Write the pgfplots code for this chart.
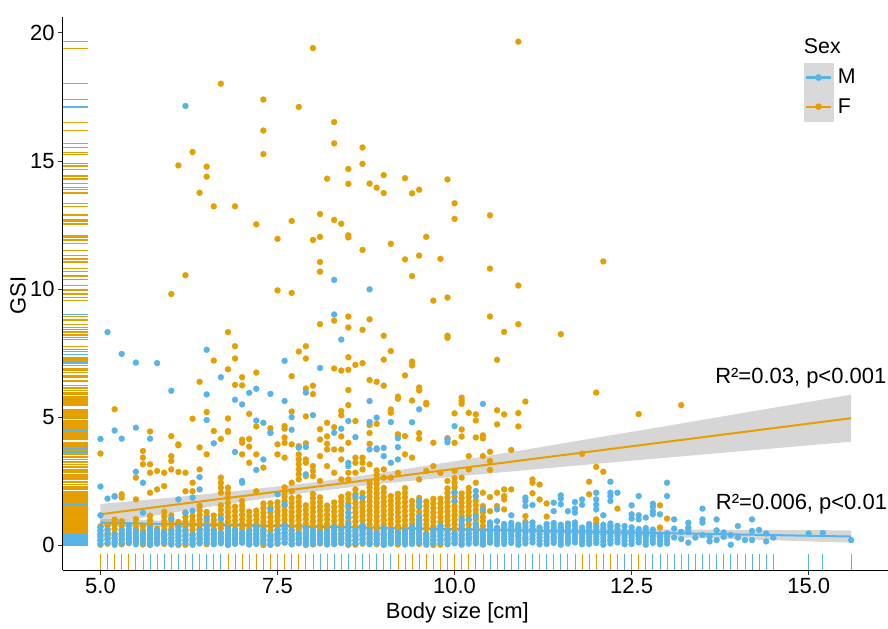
\documentclass[border=0pt]{standalone}
\usepackage{fontspec}
\setmainfont{Liberation Sans}
\usepackage{pgfplots}
\usepackage{pgfplotstable}
\pgfplotsset{compat=1.18}
\definecolor{Fc}{HTML}{E69F00}
\definecolor{Mc}{HTML}{56B4E9}
\definecolor{bandc}{RGB}{153,153,153}
\definecolor{keyc}{RGB}{217,217,217}

% Females
\pgfplotstableread[row sep=\\]{
x y\\
8.0 19.41\\ 6.7 18.02\\ 7.3 17.40\\ 7.8 17.11\\ 8.3 16.52\\ 7.3 16.19\\ 8.3 15.69\\ 8.7 15.53\\ 7.3 15.27\\ 6.3 15.35\\
6.1 14.83\\ 6.5 14.78\\ 6.5 14.39\\ 6.4 13.76\\ 6.6 13.23\\ 6.9 13.23\\ 8.5 14.69\\ 8.7 14.89\\ 8.2 14.31\\ 8.5 14.11\\
8.8 14.12\\ 8.9 13.96\\ 9.0 14.45\\ 9.0 13.75\\ 9.3 14.33\\ 9.4 13.74\\ 9.5 13.88\\ 9.9 14.28\\ 10.0 13.35\\ 10.0 12.74\\
7.2 12.53\\ 7.7 12.66\\ 8.1 12.93\\ 8.3 12.70\\ 8.4 12.55\\ 7.5 11.96\\ 8.0 11.92\\ 8.1 12.04\\ 8.5 12.10\\ 8.5 12.02\\
8.7 11.53\\ 9.1 11.77\\ 9.6 12.04\\ 9.3 11.16\\ 9.5 11.31\\ 9.8 11.18\\ 9.4 10.51\\ 8.1 11.06\\ 8.1 10.68\\ 6.2 10.54\\
6.0 9.81\\ 7.5 9.95\\ 7.7 9.85\\ 9.7 9.55\\ 9.9 9.67\\
10.9 19.66\\ 10.5 12.88\\ 10.5 10.80\\ 10.9 10.14\\ 12.1 11.08\\
10.5 8.93\\ 10.9 8.63\\ 10.7 8.33\\ 11.5 8.24\\ 10.6 7.24\\ 12.0 5.96\\ 13.2 5.47\\ 12.6 5.12\\ 11.0 5.61\\ 10.6 5.27\\
10.7 5.11\\ 10.9 5.16\\ 10.3 5.11\\ 10.3 4.87\\ 10.6 4.72\\ 10.9 4.64\\ 10.3 4.21\\ 10.4 4.29\\ 10.4 4.17\\
6.8 8.32\\ 6.9 7.77\\ 6.9 7.29\\ 6.6 7.21\\ 6.8 6.87\\ 6.4 6.38\\ 7.0 6.56\\ 6.9 6.26\\ 7.0 6.24\\ 7.2 6.74\\
5.2 5.31\\ 6.5 5.20\\ 6.3 4.94\\ 6.8 4.95\\ 6.8 4.43\\ 7.1 5.13\\ 7.2 4.64\\ 5.7 4.44\\ 6.1 3.90\\ 6.4 3.82\\
6.7 4.15\\ 7.0 4.12\\ 7.1 4.15\\ 7.1 3.85\\ 7.5 3.94\\ 7.6 4.65\\ 7.6 4.55\\ 7.6 4.21\\ 7.6 4.00\\ 7.4 4.57\\
7.7 5.22\\ 7.7 6.60\\ 7.8 3.87\\ 7.9 3.98\\ 7.9 6.12\\ 7.9 5.03\\ 8.0 6.23\\ 8.0 5.90\\ 7.8 7.56\\ 7.9 7.77\\
7.9 7.29\\ 8.1 8.63\\ 8.3 8.77\\ 8.5 8.93\\ 8.5 8.50\\ 8.7 8.41\\ 8.8 8.82\\ 9.0 8.18\\ 9.1 7.58\\ 9.0 7.25\\
8.5 7.34\\ 8.3 6.90\\ 8.4 6.82\\ 8.5 6.85\\ 8.6 7.04\\ 8.7 7.11\\ 8.8 6.45\\ 8.9 6.38\\ 9.0 6.23\\ 8.5 6.06\\
8.5 5.47\\ 8.4 5.24\\ 8.4 5.07\\ 8.1 4.53\\ 8.2 4.78\\ 8.2 4.25\\ 8.2 3.96\\ 8.3 4.61\\ 8.6 4.85\\ 8.8 4.69\\
8.8 4.38\\ 8.9 4.74\\ 8.4 4.25\\ 9.4 7.17\\ 9.4 7.02\\ 9.3 6.63\\ 9.5 6.16\\ 9.5 6.04\\ 9.2 5.80\\ 9.2 5.72\\
9.4 5.65\\ 9.6 5.56\\ 9.6 5.50\\ 9.1 5.30\\ 9.1 5.17\\ 10.1 5.76\\ 10.1 5.64\\ 10.1 5.52\\ 10.0 5.15\\ 10.2 5.17\\
9.9 8.18\\ 9.9 8.10\\ 9.2 4.31\\ 9.3 4.26\\ 9.5 4.38\\ 9.5 4.16\\ 9.9 4.18\\ 10.1 4.24\\ 8.8 3.96\\
5.0 3.58\\ 5.2 1.92\\ 5.3 1.99\\ 5.3 1.86\\ 5.5 1.79\\ 5.5 2.64\\ 5.6 3.68\\ 5.6 3.42\\ 5.6 3.16\\ 5.7 3.16\\
5.7 2.83\\ 5.7 2.05\\ 5.8 2.90\\ 5.8 2.18\\ 5.9 2.83\\ 5.9 2.31\\ 6.0 4.26\\ 6.0 3.48\\ 6.0 3.29\\ 6.0 2.96\\
6.1 3.94\\ 6.1 2.86\\ 6.2 2.83\\ 6.2 2.11\\ 6.3 2.44\\ 6.3 2.11\\ 6.4 2.96\\ 6.5 3.55\\ 6.6 4.46\\ 6.7 2.64\\
6.7 2.44\\ 6.7 2.25\\ 6.7 2.05\\ 6.8 4.46\\ 6.8 2.25\\ 6.8 2.05\\ 6.8 1.86\\ 7.0 4.00\\ 7.0 3.55\\ 7.1 3.22\\
7.2 3.55\\ 7.2 2.11\\ 7.3 3.03\\ 7.4 4.39\\ 7.5 3.55\\ 7.6 3.42\\ 7.7 2.44\\ 7.7 2.11\\
7.7 3.94\\ 7.8 3.55\\ 7.8 3.35\\ 7.8 3.16\\ 7.8 2.96\\ 7.8 2.77\\ 7.8 2.57\\ 7.9 3.35\\ 7.9 3.22\\ 7.9 2.70\\
8.0 3.09\\ 8.0 2.90\\ 8.0 2.70\\ 8.1 4.13\\ 8.1 3.48\\ 8.1 2.51\\ 8.2 3.74\\ 8.2 3.09\\ 8.3 3.74\\ 8.3 2.83\\
8.4 3.74\\ 8.4 3.35\\ 8.4 2.57\\ 8.5 4.00\\ 8.5 2.83\\ 8.5 2.57\\ 8.6 3.42\\ 8.6 3.22\\ 8.6 2.83\\ 8.7 3.42\\
8.7 3.22\\ 8.7 2.96\\ 8.8 3.16\\ 8.9 3.74\\ 9.0 2.96\\ 9.0 2.64\\ 9.1 2.64\\ 9.2 4.33\\ 9.2 2.83\\ 9.3 3.55\\
9.4 3.42\\ 9.5 2.57\\ 9.6 2.90\\ 9.7 4.00\\ 9.7 3.09\\ 9.8 2.83\\ 9.9 2.51\\ 10.0 4.00\\ 10.0 2.90\\ 10.1 4.52\\
10.1 2.64\\ 10.2 3.48\\ 10.2 2.96\\ 10.3 2.44\\ 10.4 3.48\\
10.5 3.65\\ 10.5 3.29\\ 10.5 2.94\\ 10.8 3.72\\ 10.4 2.05\\ 10.4 1.53\\ 10.4 0.94\\ 10.5 1.88\\ 10.5 1.33\\ 10.5 0.82\\
10.6 2.05\\ 10.6 1.53\\ 10.7 2.18\\ 10.7 1.92\\ 10.7 1.79\\ 10.7 1.40\\ 10.8 2.18\\ 10.9 0.69\\ 10.9 0.39\\ 11.0 1.14\\
11.0 0.91\\ 11.1 2.57\\ 11.1 2.44\\ 11.1 2.03\\ 11.1 0.62\\ 11.2 2.37\\ 11.2 1.79\\ 11.2 0.60\\ 11.3 1.63\\ 11.3 1.12\\
11.5 0.67\\ 11.6 0.83\\ 11.8 3.57\\ 11.9 2.48\\ 11.9 1.99\\ 12.0 3.06\\ 12.0 1.01\\ 12.0 0.85\\ 12.1 2.87\\ 12.3 1.43\\
12.2 0.75\\ 12.9 1.56\\ 13.0 1.04\\ 12.9 0.69\\ 12.6 0.36\\ 13.3 0.67\\
10.5 0.10\\ 10.6 0.45\\ 10.7 0.30\\ 10.8 0.50\\ 11.0 0.25\\ 11.4 0.30\\ 12.2 0.20\\
5.0 0.02\\ 5.0 0.20\\ 5.0 0.38\\ 5.0 0.56\\ 5.0 0.74\\
5.1 0.06\\ 5.1 0.24\\ 5.1 0.42\\ 5.1 0.60\\ 5.1 0.78\\
5.2 0.10\\ 5.2 0.28\\ 5.2 0.46\\ 5.2 0.64\\ 5.2 0.82\\ 5.2 1.00\\
5.3 0.04\\ 5.3 0.22\\ 5.3 0.40\\ 5.3 0.58\\ 5.3 0.76\\ 5.3 0.94\\
5.4 0.08\\ 5.4 0.26\\ 5.4 0.44\\
5.5 0.12\\ 5.5 0.30\\ 5.5 0.48\\ 5.5 0.66\\ 5.5 0.84\\ 5.5 1.02\\
5.6 0.03\\ 5.6 0.21\\ 5.6 0.39\\ 5.6 0.57\\ 5.6 0.75\\
5.7 0.07\\ 5.7 0.25\\ 5.7 0.43\\ 5.7 0.61\\ 5.7 0.79\\ 5.7 0.97\\ 5.7 1.15\\
5.8 0.11\\ 5.8 0.29\\ 5.8 0.47\\ 5.8 0.65\\
5.9 0.05\\ 5.9 0.23\\ 5.9 0.41\\ 5.9 0.59\\ 5.9 0.77\\ 5.9 0.95\\ 5.9 1.13\\ 5.9 1.31\\
6.0 0.09\\ 6.0 0.27\\ 6.0 0.45\\ 6.0 0.63\\ 6.0 0.81\\ 6.0 0.99\\ 6.0 1.17\\
6.1 0.01\\ 6.1 0.19\\ 6.1 0.37\\ 6.1 0.55\\ 6.1 0.73\\ 6.1 0.91\\
6.2 0.02\\ 6.2 0.20\\ 6.2 0.38\\ 6.2 0.56\\ 6.2 0.74\\ 6.2 0.92\\ 6.2 1.10\\ 6.2 1.28\\
6.3 0.06\\ 6.3 0.24\\ 6.3 0.42\\ 6.3 0.60\\ 6.3 0.78\\ 6.3 0.96\\ 6.3 1.14\\
6.4 0.10\\ 6.4 0.28\\ 6.4 0.46\\ 6.4 0.64\\ 6.4 0.82\\ 6.4 1.00\\ 6.4 1.18\\ 6.4 1.36\\ 6.4 1.54\\
6.5 0.04\\ 6.5 0.22\\ 6.5 0.40\\ 6.5 0.58\\ 6.5 0.76\\ 6.5 0.94\\ 6.5 1.12\\ 6.5 1.30\\
6.6 0.08\\ 6.6 0.26\\ 6.6 0.44\\ 6.6 0.62\\ 6.6 0.80\\ 6.6 0.98\\ 6.6 1.16\\
6.7 0.12\\ 6.7 0.30\\ 6.7 0.48\\ 6.7 0.66\\ 6.7 0.84\\ 6.7 1.02\\ 6.7 1.20\\ 6.7 1.38\\ 6.7 1.56\\
6.8 0.03\\ 6.8 0.21\\ 6.8 0.39\\ 6.8 0.57\\ 6.8 0.75\\ 6.8 0.93\\ 6.8 1.11\\ 6.8 1.29\\ 6.8 1.47\\ 6.8 1.65\\
6.9 0.07\\ 6.9 0.25\\ 6.9 0.43\\ 6.9 0.61\\ 6.9 0.79\\ 6.9 0.97\\ 6.9 1.15\\ 6.9 1.33\\ 6.9 1.51\\
7.0 0.11\\ 7.0 0.29\\ 7.0 0.47\\ 7.0 0.65\\ 7.0 0.83\\ 7.0 1.01\\ 7.0 1.19\\ 7.0 1.37\\ 7.0 1.55\\ 7.0 1.73\\
7.1 0.05\\ 7.1 0.23\\ 7.1 0.41\\ 7.1 0.59\\ 7.1 0.77\\ 7.1 0.95\\ 7.1 1.13\\ 7.1 1.31\\
7.2 0.09\\ 7.2 0.27\\ 7.2 0.45\\ 7.2 0.63\\ 7.2 0.81\\ 7.2 0.99\\ 7.2 1.17\\ 7.2 1.35\\
7.3 0.01\\ 7.3 0.19\\ 7.3 0.37\\ 7.3 0.55\\ 7.3 0.73\\ 7.3 0.91\\ 7.3 1.09\\ 7.3 1.27\\ 7.3 1.45\\ 7.3 1.63\\
7.4 0.02\\ 7.4 0.20\\ 7.4 0.38\\ 7.4 0.56\\ 7.4 0.74\\ 7.4 0.92\\ 7.4 1.10\\ 7.4 1.28\\ 7.4 1.46\\ 7.4 1.64\\
7.5 0.06\\ 7.5 0.24\\ 7.5 0.42\\ 7.5 0.60\\ 7.5 0.78\\ 7.5 0.96\\ 7.5 1.14\\ 7.5 1.32\\ 7.5 1.50\\ 7.5 1.68\\
7.6 0.10\\ 7.6 0.28\\ 7.6 0.46\\ 7.6 0.64\\ 7.6 0.82\\ 7.6 1.00\\ 7.6 1.18\\ 7.6 1.36\\ 7.6 1.54\\ 7.6 1.72\\ 7.6 1.90\\ 7.6 2.08\\ 7.6 2.26\\
7.7 0.04\\ 7.7 0.22\\ 7.7 0.40\\ 7.7 0.58\\ 7.7 0.76\\ 7.7 0.94\\ 7.7 1.12\\ 7.7 1.30\\ 7.7 1.48\\ 7.7 1.66\\ 7.7 1.84\\
7.8 0.08\\ 7.8 0.26\\ 7.8 0.44\\ 7.8 0.62\\ 7.8 0.80\\ 7.8 0.98\\ 7.8 1.16\\ 7.8 1.34\\ 7.8 1.52\\ 7.8 1.70\\ 7.8 1.88\\
7.9 0.12\\ 7.9 0.30\\ 7.9 0.48\\ 7.9 0.66\\ 7.9 0.84\\ 7.9 1.02\\ 7.9 1.20\\ 7.9 1.38\\ 7.9 1.56\\
8.0 0.03\\ 8.0 0.21\\ 8.0 0.39\\ 8.0 0.57\\ 8.0 0.75\\ 8.0 0.93\\ 8.0 1.11\\ 8.0 1.29\\ 8.0 1.47\\ 8.0 1.65\\ 8.0 1.83\\ 8.0 2.01\\
8.1 0.07\\ 8.1 0.25\\ 8.1 0.43\\ 8.1 0.61\\ 8.1 0.79\\ 8.1 0.97\\ 8.1 1.15\\ 8.1 1.33\\ 8.1 1.51\\ 8.1 1.69\\ 8.1 1.87\\
8.2 0.11\\ 8.2 0.29\\ 8.2 0.47\\ 8.2 0.65\\ 8.2 0.83\\ 8.2 1.01\\ 8.2 1.19\\ 8.2 1.37\\ 8.2 1.55\\
8.3 0.05\\ 8.3 0.23\\ 8.3 0.41\\ 8.3 0.59\\ 8.3 0.77\\ 8.3 0.95\\ 8.3 1.13\\ 8.3 1.31\\ 8.3 1.49\\ 8.3 1.67\\
8.4 0.09\\ 8.4 0.27\\ 8.4 0.45\\ 8.4 0.63\\ 8.4 0.81\\ 8.4 0.99\\ 8.4 1.17\\ 8.4 1.35\\ 8.4 1.53\\ 8.4 1.71\\ 8.4 1.89\\
8.5 0.01\\ 8.5 0.19\\ 8.5 0.37\\ 8.5 0.55\\ 8.5 0.73\\ 8.5 0.91\\ 8.5 1.09\\ 8.5 1.27\\ 8.5 1.45\\ 8.5 1.63\\ 8.5 1.81\\ 8.5 1.99\\
8.6 0.02\\ 8.6 0.20\\ 8.6 0.38\\ 8.6 0.56\\ 8.6 0.74\\ 8.6 0.92\\ 8.6 1.10\\ 8.6 1.28\\ 8.6 1.46\\ 8.6 1.64\\ 8.6 1.82\\ 8.6 2.00\\ 8.6 2.18\\
8.7 0.06\\ 8.7 0.24\\ 8.7 0.42\\ 8.7 0.60\\ 8.7 0.78\\ 8.7 0.96\\ 8.7 1.14\\ 8.7 1.32\\ 8.7 1.50\\ 8.7 1.68\\ 8.7 1.86\\ 8.7 2.04\\
8.8 0.10\\ 8.8 0.28\\ 8.8 0.46\\ 8.8 0.64\\ 8.8 0.82\\ 8.8 1.00\\ 8.8 1.18\\ 8.8 1.36\\ 8.8 1.54\\ 8.8 1.72\\ 8.8 1.90\\ 8.8 2.08\\ 8.8 2.26\\ 8.8 2.44\\
8.9 0.04\\ 8.9 0.22\\ 8.9 0.40\\ 8.9 0.58\\ 8.9 0.76\\ 8.9 0.94\\ 8.9 1.12\\ 8.9 1.30\\ 8.9 1.48\\ 8.9 1.66\\ 8.9 1.84\\ 8.9 2.02\\ 8.9 2.20\\ 8.9 2.38\\ 8.9 2.56\\ 8.9 2.74\\ 8.9 2.92\\
9.0 0.08\\ 9.0 0.26\\ 9.0 0.44\\ 9.0 0.62\\ 9.0 0.80\\ 9.0 0.98\\ 9.0 1.16\\ 9.0 1.34\\ 9.0 1.52\\ 9.0 1.70\\ 9.0 1.88\\ 9.0 2.06\\ 9.0 2.24\\
9.1 0.12\\ 9.1 0.30\\ 9.1 0.48\\ 9.1 0.66\\ 9.1 0.84\\ 9.1 1.02\\ 9.1 1.20\\ 9.1 1.38\\ 9.1 1.56\\ 9.1 1.74\\ 9.1 1.92\\
9.2 0.03\\ 9.2 0.21\\ 9.2 0.39\\ 9.2 0.57\\ 9.2 0.75\\ 9.2 0.93\\ 9.2 1.11\\ 9.2 1.29\\ 9.2 1.47\\ 9.2 1.65\\ 9.2 1.83\\ 9.2 2.01\\
9.3 0.07\\ 9.3 0.25\\ 9.3 0.43\\ 9.3 0.61\\ 9.3 0.79\\ 9.3 0.97\\ 9.3 1.15\\ 9.3 1.33\\ 9.3 1.51\\ 9.3 1.69\\ 9.3 1.87\\ 9.3 2.05\\ 9.3 2.23\\
9.4 0.11\\ 9.4 0.29\\ 9.4 0.47\\ 9.4 0.65\\ 9.4 0.83\\ 9.4 1.01\\ 9.4 1.19\\ 9.4 1.37\\ 9.4 1.55\\ 9.4 1.73\\
9.5 0.05\\ 9.5 0.23\\ 9.5 0.41\\ 9.5 0.59\\ 9.5 0.77\\ 9.5 0.95\\ 9.5 1.13\\ 9.5 1.31\\ 9.5 1.49\\ 9.5 1.67\\ 9.5 1.85\\
9.6 0.09\\ 9.6 0.27\\ 9.6 0.45\\ 9.6 0.63\\ 9.6 0.81\\ 9.6 0.99\\ 9.6 1.17\\ 9.6 1.35\\ 9.6 1.53\\ 9.6 1.71\\
9.7 0.01\\ 9.7 0.19\\ 9.7 0.37\\ 9.7 0.55\\ 9.7 0.73\\ 9.7 0.91\\ 9.7 1.09\\ 9.7 1.27\\ 9.7 1.45\\ 9.7 1.63\\ 9.7 1.81\\
9.8 0.02\\ 9.8 0.20\\ 9.8 0.38\\ 9.8 0.56\\ 9.8 0.74\\ 9.8 0.92\\ 9.8 1.10\\ 9.8 1.28\\ 9.8 1.46\\ 9.8 1.64\\ 9.8 1.82\\
9.9 0.06\\ 9.9 0.24\\ 9.9 0.42\\ 9.9 0.60\\ 9.9 0.78\\ 9.9 0.96\\ 9.9 1.14\\ 9.9 1.32\\ 9.9 1.50\\ 9.9 1.68\\ 9.9 1.86\\ 9.9 2.04\\ 9.9 2.22\\
10.0 0.10\\ 10.0 0.28\\ 10.0 0.46\\ 10.0 0.64\\ 10.0 0.82\\ 10.0 1.00\\ 10.0 1.18\\ 10.0 1.36\\ 10.0 1.54\\ 10.0 1.72\\ 10.0 1.90\\ 10.0 2.08\\ 10.0 2.26\\ 10.0 2.44\\ 10.0 2.62\\
10.1 0.04\\ 10.1 0.22\\ 10.1 0.40\\ 10.1 0.58\\ 10.1 0.76\\ 10.1 0.94\\ 10.1 1.12\\ 10.1 1.30\\ 10.1 1.48\\ 10.1 1.66\\ 10.1 1.84\\ 10.1 2.02\\
10.2 0.26\\ 10.2 0.44\\ 10.2 0.62\\ 10.2 0.80\\ 10.2 0.98\\ 10.2 1.16\\ 10.2 1.34\\ 10.2 1.52\\ 10.2 1.70\\ 10.2 1.88\\ 10.2 2.06\\ 10.2 2.24\\
10.3 0.12\\ 10.3 0.30\\ 10.3 0.48\\ 10.3 0.66\\ 10.3 0.84\\ 10.3 1.02\\ 10.3 1.20\\ 10.3 1.38\\ 10.3 1.56\\ 10.3 1.74\\ 10.3 1.92\\
10.4 0.03\\ 10.4 0.21\\ 10.4 0.39\\ 10.4 0.57\\ 10.4 0.75\\ 10.4 1.11\\ 10.4 1.29\\
}\Fdata

% Males
\pgfplotstableread[row sep=\\]{
x y\\
6.2 17.15\\ 8.3 10.36\\ 8.8 9.99\\ 10.4 5.52\\ 5.1 8.32\\ 5.3 7.47\\ 5.5 7.13\\ 5.8 7.11\\ 6.0 6.03\\ 6.5 7.63\\
6.7 6.56\\ 6.5 5.89\\ 6.9 5.68\\ 7.0 5.50\\ 7.1 5.95\\ 7.2 6.11\\ 7.4 5.91\\ 7.6 7.20\\ 7.6 5.63\\ 7.9 5.96\\
8.1 6.92\\ 8.3 9.01\\ 8.4 8.03\\ 8.8 5.63\\ 9.5 5.31\\
5.0 4.15\\ 5.2 4.48\\ 5.3 4.16\\ 5.5 4.59\\ 5.7 4.16\\ 6.5 4.89\\ 6.6 3.98\\ 7.2 4.87\\ 7.3 4.78\\ 7.4 4.39\\
7.7 5.00\\ 7.7 4.51\\ 8.0 5.08\\ 8.3 4.39\\ 8.4 4.55\\ 8.5 4.85\\ 8.6 4.22\\ 8.8 4.81\\ 8.9 4.98\\ 9.1 4.81\\
9.4 4.80\\ 10.0 4.65\\ 9.9 4.02\\ 9.0 3.80\\ 8.9 3.78\\ 9.2 4.18\\ 9.2 3.83\\ 7.9 3.84\\
5.0 2.29\\ 5.0 1.17\\ 5.1 1.82\\ 5.2 1.90\\ 5.5 2.87\\ 5.6 2.44\\ 5.6 1.27\\ 6.0 1.04\\ 6.1 1.79\\ 6.2 1.25\\
6.3 1.86\\ 6.3 1.34\\ 6.4 2.66\\ 6.4 2.18\\ 6.5 1.04\\ 6.7 1.04\\ 6.9 3.64\\ 7.0 2.44\\ 7.0 2.51\\ 7.2 2.94\\
7.3 3.35\\ 7.4 1.40\\ 7.5 1.99\\ 7.6 1.60\\
7.8 3.81\\ 7.9 2.77\\ 8.5 3.22\\ 8.5 3.09\\ 8.5 1.53\\ 8.5 1.27\\ 8.5 1.08\\ 8.6 1.92\\ 8.7 1.86\\ 8.8 3.74\\
9.0 3.48\\ 9.1 3.22\\ 9.2 3.35\\ 9.5 1.73\\ 9.5 1.53\\ 9.5 1.14\\ 9.5 1.01\\ 9.9 4.13\\ 10.0 2.05\\ 10.0 1.73\\
10.1 1.01\\ 10.2 1.01\\ 10.3 2.12\\ 10.3 1.92\\ 10.3 1.14\\ 10.4 1.40\\
11.0 1.86\\ 11.0 1.73\\ 11.0 1.53\\ 11.1 1.57\\ 11.4 1.66\\ 11.4 1.33\\ 11.5 1.95\\ 11.5 1.82\\ 11.5 1.60\\ 11.6 1.33\\
11.7 1.69\\ 11.7 1.43\\ 11.7 1.27\\ 11.8 1.79\\ 11.8 1.58\\ 12.0 2.05\\ 12.0 1.79\\ 12.0 1.58\\ 12.0 1.40\\ 12.1 1.17\\
12.2 2.48\\ 12.2 2.05\\ 12.2 1.92\\ 12.2 1.73\\ 12.3 2.05\\ 12.4 0.75\\ 12.5 1.56\\ 12.5 1.21\\ 12.5 1.04\\ 12.6 1.92\\
12.6 1.17\\ 12.6 1.01\\ 12.7 1.08\\ 12.8 1.62\\ 12.8 1.50\\ 12.8 1.33\\ 12.8 1.21\\ 12.9 1.21\\ 13.0 2.44\\ 13.0 1.92\\
10.8 1.17\\ 10.6 1.40\\ 10.6 0.94\\
13.1 1.01\\ 13.1 0.65\\ 13.1 0.30\\ 13.2 0.52\\ 13.2 0.24\\ 13.3 0.88\\ 13.3 0.69\\ 13.3 0.52\\ 13.3 0.10\\ 13.4 0.30\\
13.5 1.43\\ 13.5 1.01\\ 13.5 0.88\\ 13.5 0.40\\ 13.6 0.35\\ 13.6 0.15\\ 13.7 1.01\\ 13.7 0.58\\ 13.7 0.20\\ 13.8 0.50\\
13.8 0.33\\ 13.9 0.40\\ 13.9 0.02\\ 14.0 0.75\\ 14.0 0.30\\ 14.1 0.20\\ 14.2 1.01\\ 14.2 0.56\\ 14.2 0.20\\ 14.3 0.60\\
14.4 0.46\\ 14.4 0.15\\ 14.5 0.30\\ 15.0 0.46\\ 15.2 0.48\\ 15.6 0.20\\
5.0 0.05\\ 5.0 0.18\\ 5.0 0.31\\ 5.0 0.44\\ 5.0 0.57\\ 5.0 0.70\\
5.1 0.09\\ 5.1 0.22\\ 5.1 0.35\\ 5.1 0.48\\ 5.1 0.61\\
5.2 0.02\\ 5.2 0.15\\ 5.2 0.28\\ 5.2 0.41\\
5.3 0.07\\ 5.3 0.20\\ 5.3 0.33\\ 5.3 0.46\\ 5.3 0.59\\
5.4 0.11\\ 5.4 0.24\\ 5.4 0.37\\ 5.4 0.50\\ 5.4 0.63\\ 5.4 0.76\\
5.5 0.04\\ 5.5 0.17\\ 5.5 0.30\\ 5.5 0.43\\ 5.5 0.56\\
5.6 0.08\\ 5.6 0.21\\ 5.6 0.34\\ 5.6 0.47\\
5.7 0.01\\ 5.7 0.14\\ 5.7 0.27\\ 5.7 0.40\\ 5.7 0.53\\ 5.7 0.66\\
5.8 0.06\\ 5.8 0.19\\ 5.8 0.32\\ 5.8 0.45\\ 5.8 0.58\\
5.9 0.10\\ 5.9 0.23\\ 5.9 0.36\\ 5.9 0.49\\
6.0 0.03\\ 6.0 0.16\\ 6.0 0.29\\ 6.0 0.42\\ 6.0 0.55\\
6.1 0.05\\ 6.1 0.18\\ 6.1 0.31\\ 6.1 0.44\\ 6.1 0.57\\ 6.1 0.70\\
6.2 0.09\\ 6.2 0.22\\ 6.2 0.35\\ 6.2 0.48\\ 6.2 0.61\\
6.3 0.02\\ 6.3 0.15\\ 6.3 0.28\\ 6.3 0.41\\
6.4 0.07\\ 6.4 0.20\\ 6.4 0.33\\ 6.4 0.46\\ 6.4 0.59\\
6.5 0.11\\ 6.5 0.24\\ 6.5 0.37\\ 6.5 0.50\\ 6.5 0.63\\ 6.5 0.76\\
6.6 0.04\\ 6.6 0.17\\ 6.6 0.30\\ 6.6 0.43\\ 6.6 0.56\\
6.7 0.08\\ 6.7 0.21\\ 6.7 0.34\\ 6.7 0.47\\
6.8 0.01\\ 6.8 0.14\\ 6.8 0.27\\ 6.8 0.40\\ 6.8 0.53\\ 6.8 0.66\\
6.9 0.06\\ 6.9 0.19\\ 6.9 0.32\\ 6.9 0.45\\ 6.9 0.58\\
7.0 0.10\\ 7.0 0.23\\ 7.0 0.36\\ 7.0 0.49\\
7.1 0.03\\ 7.1 0.16\\ 7.1 0.29\\ 7.1 0.42\\ 7.1 0.55\\
7.2 0.05\\ 7.2 0.18\\ 7.2 0.31\\ 7.2 0.44\\ 7.2 0.57\\ 7.2 0.70\\
7.3 0.09\\ 7.3 0.22\\ 7.3 0.35\\ 7.3 0.48\\ 7.3 0.61\\
7.4 0.02\\ 7.4 0.15\\ 7.4 0.28\\ 7.4 0.41\\
7.5 0.07\\ 7.5 0.20\\ 7.5 0.33\\ 7.5 0.46\\ 7.5 0.59\\
7.6 0.11\\ 7.6 0.24\\ 7.6 0.37\\ 7.6 0.50\\ 7.6 0.63\\ 7.6 0.76\\
7.7 0.04\\ 7.7 0.17\\ 7.7 0.30\\ 7.7 0.43\\ 7.7 0.56\\
7.8 0.08\\ 7.8 0.21\\ 7.8 0.34\\ 7.8 0.47\\
7.9 0.01\\ 7.9 0.14\\ 7.9 0.27\\ 7.9 0.40\\ 7.9 0.53\\ 7.9 0.66\\
8.0 0.06\\ 8.0 0.19\\ 8.0 0.32\\ 8.0 0.45\\ 8.0 0.58\\
8.1 0.10\\ 8.1 0.23\\ 8.1 0.36\\ 8.1 0.49\\
8.2 0.03\\ 8.2 0.16\\ 8.2 0.29\\ 8.2 0.42\\ 8.2 0.55\\
8.3 0.05\\ 8.3 0.18\\ 8.3 0.31\\ 8.3 0.44\\ 8.3 0.57\\ 8.3 0.70\\
8.4 0.09\\ 8.4 0.22\\ 8.4 0.35\\ 8.4 0.48\\ 8.4 0.61\\
8.5 0.05\\ 8.5 0.18\\ 8.5 0.31\\ 8.5 0.44\\ 8.5 0.57\\ 8.5 0.70\\ 8.5 0.83\\
8.6 0.07\\ 8.6 0.20\\ 8.6 0.33\\ 8.6 0.46\\ 8.6 0.59\\
8.7 0.11\\ 8.7 0.24\\ 8.7 0.37\\ 8.7 0.50\\ 8.7 0.63\\ 8.7 0.76\\
8.8 0.04\\ 8.8 0.17\\ 8.8 0.30\\ 8.8 0.43\\ 8.8 0.56\\
8.9 0.08\\ 8.9 0.21\\ 8.9 0.34\\ 8.9 0.47\\
9.0 0.01\\ 9.0 0.14\\ 9.0 0.27\\ 9.0 0.40\\ 9.0 0.53\\ 9.0 0.66\\
9.1 0.06\\ 9.1 0.19\\ 9.1 0.32\\ 9.1 0.45\\ 9.1 0.58\\
9.2 0.10\\ 9.2 0.23\\ 9.2 0.36\\ 9.2 0.49\\
9.3 0.03\\ 9.3 0.16\\ 9.3 0.29\\ 9.3 0.42\\ 9.3 0.55\\
9.4 0.05\\ 9.4 0.18\\ 9.4 0.31\\ 9.4 0.44\\ 9.4 0.57\\ 9.4 0.70\\
9.5 0.09\\ 9.5 0.22\\ 9.5 0.35\\ 9.5 0.48\\ 9.5 0.61\\ 9.5 0.74\\ 9.5 0.87\\
9.6 0.02\\ 9.6 0.15\\ 9.6 0.28\\ 9.6 0.41\\
9.7 0.07\\ 9.7 0.20\\ 9.7 0.33\\ 9.7 0.46\\ 9.7 0.59\\
9.8 0.11\\ 9.8 0.24\\ 9.8 0.37\\ 9.8 0.50\\ 9.8 0.63\\ 9.8 0.76\\
9.9 0.04\\ 9.9 0.17\\ 9.9 0.30\\ 9.9 0.43\\ 9.9 0.56\\
10.0 0.08\\ 10.0 0.21\\ 10.0 0.34\\ 10.0 0.47\\
10.1 0.02\\ 10.1 0.15\\ 10.1 0.28\\ 10.1 0.41\\ 10.1 0.54\\ 10.1 0.67\\ 10.1 0.80\\
10.2 0.06\\ 10.2 0.19\\ 10.2 0.32\\ 10.2 0.45\\ 10.2 0.58\\
10.3 0.07\\ 10.3 0.20\\ 10.3 0.33\\ 10.3 0.46\\ 10.3 0.59\\ 10.3 0.72\\ 10.3 0.85\\
10.4 0.03\\ 10.4 0.16\\ 10.4 0.29\\ 10.4 0.42\\ 10.4 0.55\\
10.5 0.11\\ 10.5 0.24\\ 10.5 0.37\\ 10.5 0.50\\ 10.5 0.63\\ 10.5 0.76\\ 10.5 0.89\\
10.6 0.04\\ 10.6 0.17\\ 10.6 0.30\\ 10.6 0.43\\ 10.6 0.56\\ 10.6 0.69\\
10.7 0.05\\ 10.7 0.18\\ 10.7 0.31\\ 10.7 0.44\\ 10.7 0.57\\ 10.7 0.70\\ 10.7 0.83\\
10.8 0.09\\ 10.8 0.22\\ 10.8 0.35\\ 10.8 0.48\\ 10.8 0.61\\ 10.8 0.74\\ 10.8 0.87\\
10.9 0.02\\ 10.9 0.15\\ 10.9 0.28\\ 10.9 0.41\\ 10.9 0.54\\ 10.9 0.67\\ 10.9 0.80\\
11.0 0.07\\ 11.0 0.20\\ 11.0 0.33\\ 11.0 0.46\\ 11.0 0.59\\ 11.0 0.72\\ 11.0 0.85\\
11.1 0.11\\ 11.1 0.24\\ 11.1 0.37\\ 11.1 0.50\\ 11.1 0.63\\ 11.1 0.76\\ 11.1 0.89\\
11.2 0.04\\ 11.2 0.17\\ 11.2 0.30\\ 11.2 0.43\\ 11.2 0.56\\ 11.2 0.69\\
11.3 0.05\\ 11.3 0.18\\ 11.3 0.31\\ 11.3 0.44\\ 11.3 0.57\\ 11.3 0.70\\ 11.3 0.83\\
11.4 0.09\\ 11.4 0.22\\ 11.4 0.35\\ 11.4 0.48\\ 11.4 0.61\\ 11.4 0.74\\ 11.4 0.87\\
11.5 0.02\\ 11.5 0.15\\ 11.5 0.28\\ 11.5 0.41\\ 11.5 0.54\\ 11.5 0.67\\ 11.5 0.80\\
11.6 0.07\\ 11.6 0.20\\ 11.6 0.33\\ 11.6 0.46\\ 11.6 0.59\\ 11.6 0.72\\ 11.6 0.85\\
11.7 0.11\\ 11.7 0.24\\ 11.7 0.37\\ 11.7 0.50\\ 11.7 0.63\\ 11.7 0.76\\ 11.7 0.89\\
11.8 0.04\\ 11.8 0.17\\ 11.8 0.30\\ 11.8 0.43\\ 11.8 0.56\\ 11.8 0.69\\
11.9 0.05\\ 11.9 0.18\\ 11.9 0.31\\ 11.9 0.44\\ 11.9 0.57\\ 11.9 0.70\\ 11.9 0.83\\
12.0 0.09\\ 12.0 0.22\\ 12.0 0.35\\ 12.0 0.48\\ 12.0 0.61\\ 12.0 0.74\\
12.1 0.02\\ 12.1 0.15\\ 12.1 0.28\\ 12.1 0.41\\ 12.1 0.54\\ 12.1 0.67\\ 12.1 0.80\\
12.2 0.07\\ 12.2 0.20\\ 12.2 0.33\\ 12.2 0.46\\ 12.2 0.59\\ 12.2 0.72\\ 12.2 0.85\\
12.3 0.11\\ 12.3 0.24\\ 12.3 0.37\\ 12.3 0.50\\ 12.3 0.63\\ 12.3 0.76\\
12.4 0.04\\ 12.4 0.17\\ 12.4 0.30\\ 12.4 0.43\\ 12.4 0.56\\
12.5 0.05\\ 12.5 0.18\\ 12.5 0.31\\ 12.5 0.44\\ 12.5 0.57\\ 12.5 0.70\\
12.6 0.11\\ 12.6 0.24\\ 12.6 0.37\\ 12.6 0.50\\ 12.6 0.63\\
12.7 0.02\\ 12.7 0.15\\ 12.7 0.28\\ 12.7 0.41\\ 12.7 0.54\\ 12.7 0.67\\
12.8 0.09\\ 12.8 0.22\\ 12.8 0.35\\ 12.8 0.48\\ 12.8 0.61\\
12.9 0.04\\ 12.9 0.17\\ 12.9 0.30\\ 12.9 0.43\\
13.0 0.07\\ 13.0 0.20\\ 13.0 0.33\\ 13.0 0.46\\
}\Mdata

\begin{document}
\begin{tikzpicture}
\begin{axis}[
  scale only axis, width=619.5pt, height=415.8pt,
  xmin=4.47, xmax=16.12, ymin=-0.98, ymax=20.64,
  axis x line*=bottom, axis y line*=left,
  axis line style={-, line width=0.8pt, black},
  xtick={5,7.5,10,12.5,15}, xticklabels={5.0,7.5,10.0,12.5,15.0},
  ytick={0,5,10,15,20}, yticklabels={0,5,10,15,20},
  tick align=outside, major tick length=3.5pt,
  tick style={line width=0.8pt, black!80},
  ticklabel style={font=\fontsize{16.5}{18}\selectfont, text=black, inner sep=2.5pt},
  clip=false,
  legend cell align=left,
  legend style={at={(axis cs:14.93,18.83)}, anchor=north west, draw=none, fill=none,
    inner sep=0pt, outer sep=0pt, row sep=0pt, font=\fontsize{16}{18}\selectfont,
    /tikz/every odd column/.append style={column sep=1.5pt}},
]
\coordinate (BL) at (rel axis cs:0,0);
\coordinate (TR) at (rel axis cs:1,1);

% points
\addplot[forget plot, only marks, color=Fc, mark=*, mark size=2.3pt, mark options={solid, draw=Fc, fill=Fc, line width=0.1pt}] table[x=x,y=y]{\Fdata};
\addplot[forget plot, only marks, color=Mc, mark=*, mark size=2.3pt, mark options={solid, draw=Mc, fill=Mc, line width=0.1pt}] table[x=x,y=y]{\Mdata};

% left rug
\addplot[forget plot, only marks, color=Mc, mark=-, mark size=9.3pt, mark options={draw=Mc, line width=0.6pt}] table[x expr=4.645, y=y]{\Mdata};
\addplot[forget plot, only marks, color=Fc, mark=-, mark size=9.3pt, mark options={draw=Fc, line width=0.6pt}] table[x expr=4.645, y=y]{\Fdata};
\addplot[forget plot, only marks, color=Mc, mark=-, mark size=9.3pt, mark options={draw=Mc, line width=0.6pt},
  y filter/.expression={y<0.45 ? y : nan}] table[x expr=4.645, y=y]{\Mdata};

% bottom rug
\addplot[forget plot, only marks, color=Mc, mark=|, mark size=6.2pt, mark options={draw=Mc, line width=0.6pt}] table[x=x, y expr=-0.656]{\Mdata};
\addplot[forget plot, only marks, color=Fc, mark=|, mark size=6.2pt, mark options={draw=Fc, line width=0.6pt}] table[x=x, y expr=-0.656]{\Fdata};
\addplot[forget plot, only marks, color=Mc, mark=|, mark size=6.2pt, mark options={draw=Mc, line width=0.6pt},
  x filter/.expression={mod(round(10*x),2)==1 ? x : nan}] table[x=x, y expr=-0.656]{\Mdata};

% confidence bands
\addplot[forget plot, draw=none, fill=bandc, fill opacity=0.4] coordinates {
 (5,1.61) (6,1.86) (7,2.14) (8,2.45) (9,2.84) (10,3.28) (11,3.73) (12,4.20) (13,4.66) (14,5.13) (15,5.60) (15.6,5.88)
 (15.6,4.04) (15,3.90) (14,3.66) (13,3.42) (12,3.18) (11,2.93) (10,2.68) (9,2.41) (8,2.09) (7,1.70) (6,1.26) (5,0.81)} -- cycle;
\addplot[forget plot, draw=none, fill=bandc, fill opacity=0.4] coordinates {
 (5,1.03) (6,0.95) (7,0.87) (8,0.79) (9,0.73) (10,0.69) (11,0.66) (12,0.64) (13,0.62) (14,0.60) (15,0.59) (15.6,0.58)
 (15.6,0.10) (15,0.15) (14,0.24) (13,0.32) (12,0.40) (11,0.49) (10,0.57) (9,0.63) (8,0.67) (7,0.70) (6,0.71) (5,0.73)} -- cycle;
% regression lines
\addplot[forget plot, Fc, line width=1.5pt] coordinates {(5,1.21) (15.6,4.96)};
\addplot[forget plot, Mc, line width=1.5pt] coordinates {(5,0.88) (15.6,0.34)};

% legend
\addlegendimage{legend image code/.code={
  \fill[keyc] (0pt,-10.75pt) rectangle (21.75pt,10.75pt);
  \draw[Mc, line width=1.6pt] (1.5pt,0pt) -- (20.25pt,0pt);
  \fill[Mc] (10.875pt,0pt) circle (2.3pt);}}
\addlegendentry{M}
\addlegendimage{legend image code/.code={
  \fill[keyc] (0pt,-10.75pt) rectangle (21.75pt,10.75pt);
  \draw[Fc, line width=1.6pt] (1.5pt,0pt) -- (20.25pt,0pt);
  \fill[Fc] (10.875pt,0pt) circle (2.3pt);}}
\addlegendentry{F}

\node[anchor=west, inner sep=0pt, font=\fontsize{16}{18}\selectfont] at (axis cs:14.93,19.47) {Sex};
\node[anchor=east, inner sep=0pt, font=\fontsize{16.5}{18}\selectfont] at (axis cs:16.10,6.52) {R²=0.03, p<0.001};
\node[anchor=east, inner sep=0pt, font=\fontsize{16.5}{18}\selectfont] at (axis cs:16.11,1.59) {R²=0.006, p<0.01};
\node[anchor=center, font=\fontsize{16.5}{18}\selectfont] at ([yshift=-32.25pt]axis cs:10.04,-0.98) {Body size [cm]};
\node[anchor=center, rotate=90, font=\fontsize{16.5}{18}\selectfont] at ([xshift=-33.75pt]axis cs:4.47,9.75) {GSI};
\end{axis}
\pgfresetboundingbox
\path[use as bounding box] ([xshift=-47.25pt,yshift=-43.5pt]BL) rectangle ([yshift=12.45pt]TR);
\end{tikzpicture}
\end{document}
